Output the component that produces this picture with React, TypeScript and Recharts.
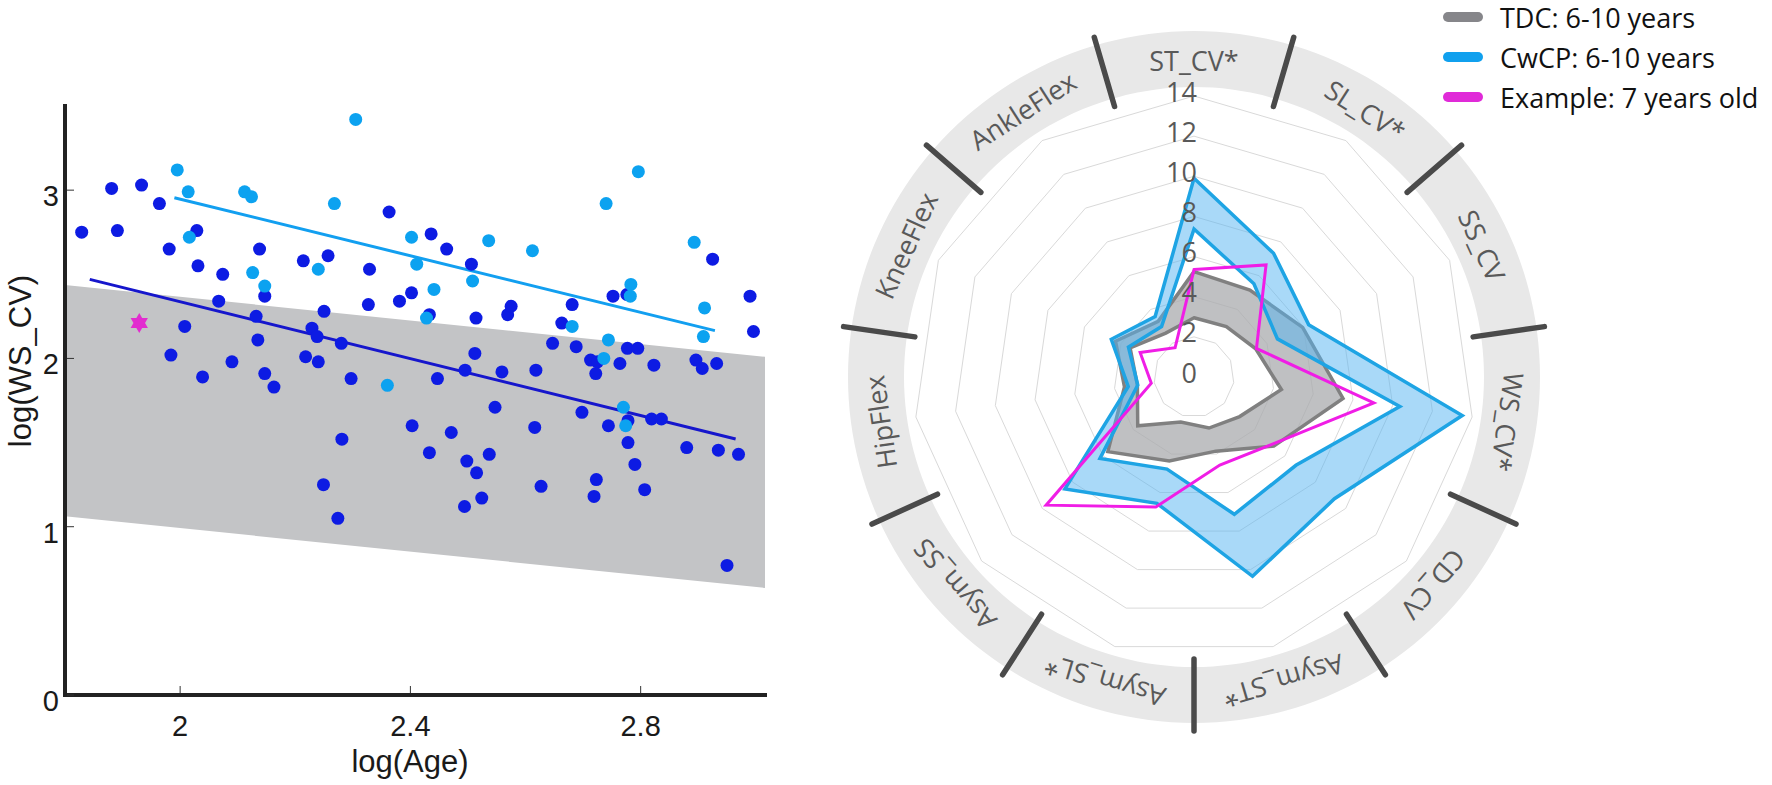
import React from 'react';
import {
  ComposedChart, Scatter, Line, Area, XAxis, YAxis,
  RadarChart, Radar, PolarGrid, PolarAngleAxis, PolarRadiusAxis, Legend,
  PieChart, Pie,
} from 'recharts';

// ---- left panel: log(WS_CV) against log(Age)
const darkAge = [
  1.829, 1.881, 1.891, 1.933, 1.964, 1.981, 2.029, 2.031, 2.074, 2.138, 2.147, 2.067, 2.132, 2.135, 2.008,
  1.984, 2.09, 2.039, 2.147, 2.163, 2.214, 2.257, 2.25, 2.229, 2.238, 2.28, 2.218, 2.24, 2.297, 2.329,
  2.327, 2.363, 2.381, 2.402, 2.436, 2.463, 2.433, 2.447, 2.506, 2.512, 2.514, 2.495, 2.559, 2.569, 2.575,
  2.547, 2.618, 2.647, 2.663, 2.681, 2.688, 2.698, 2.713, 2.725, 2.722, 2.744, 2.764, 2.752, 2.777, 2.795,
  2.778, 2.823, 2.819, 2.836, 2.403, 2.471, 2.616, 2.281, 2.433, 2.498, 2.515, 2.537, 2.627, 2.524, 2.494,
  2.249, 2.274, 2.778, 2.79, 2.723, 2.719, 2.807, 2.88, 2.925, 2.776, 2.896, 2.907, 2.932, 2.935, 2.99,
  2.996, 2.97, 2.95,
];
const darkWs = [
  2.75, 3.01, 2.76, 3.03, 2.92, 2.65, 2.76, 2.55, 2.5, 2.65, 2.37, 2.34, 2.25, 2.11, 2.19,
  2.02, 1.98, 1.89, 1.91, 1.83, 2.58, 2.61, 2.28, 2.18, 2.13, 2.09, 2.01, 1.98, 1.88, 2.53,
  2.32, 2.87, 2.34, 2.39, 2.74, 2.65, 2.26, 1.88, 2.56, 2.03, 2.24, 1.93, 1.92, 2.26, 2.31,
  1.71, 1.93, 2.09, 2.21, 2.32, 2.07, 1.68, 1.99, 1.98, 1.91, 1.6, 1.97, 2.37, 2.06, 2.06,
  1.63, 1.96, 1.64, 1.64, 1.6, 1.56, 1.59, 1.52, 1.44, 1.39, 1.32, 1.43, 1.24, 1.17, 1.12,
  1.25, 1.05, 1.5, 1.37, 1.28, 1.18, 1.22, 1.47, 2.59, 2.38, 1.99, 1.94, 1.97, 1.455, 2.37,
  2.16, 1.43, 0.77,
];
const lightAge = [
  1.995, 2.014, 2.016, 2.112, 2.124, 2.126, 2.147, 2.24, 2.268, 2.305, 2.402, 2.411, 2.441, 2.428, 2.36,
  2.508, 2.536, 2.612, 2.681, 2.74, 2.796, 2.783, 2.782, 2.744, 2.736, 2.77, 2.774, 2.893, 2.911, 2.909,
];
const lightWs = [
  3.12, 2.99, 2.72, 2.99, 2.96, 2.51, 2.43, 2.53, 2.92, 3.42, 2.72, 2.56, 2.41, 2.24, 1.84,
  2.46, 2.7, 2.64, 2.19, 2.92, 3.11, 2.44, 2.37, 2.11, 2.0, 1.71, 1.6, 2.69, 2.3, 2.13,
];
const exampleAge = [1.929];
const exampleWs = [2.21];

const darkFitAge = [1.843, 2.965];
const darkFitWs = [2.47, 1.521];
const lightFitAge = [1.99, 2.929];
const lightFitWs = [2.955, 2.165];

const bandAge = [1.8, 3.016];
const bandLow = [1.062, 0.636];
const bandHigh = [2.436, 2.01];

const ageTicks = [2, 2.4, 2.8];
const wsTicks = [0, 1, 2, 3];

const darkPts = darkAge.map((x, i) => ({ x, y: darkWs[i] }));
const lightPts = lightAge.map((x, i) => ({ x, y: lightWs[i] }));
const examplePts = exampleAge.map((x, i) => ({ x, y: exampleWs[i] }));
const darkFit = darkFitAge.map((x, i) => ({ x, y: darkFitWs[i] }));
const lightFit = lightFitAge.map((x, i) => ({ x, y: lightFitWs[i] }));
const bandRows = bandAge.map((x, i) => ({ x, band: [bandLow[i], bandHigh[i]] }));

// ---- right panel: radar of gait variables
const radarAxes = ['ST_CV*', 'SL_CV*', 'SS_CV', 'WS_CV*', 'CD_CV', 'Asym_ST*', 'Asym_SL*', 'Asym_SS', 'HipFlex', 'KneeFlex', 'AnkleFlex'];
const tdcLow = [2.95, 2.98, 3.38, 4.4, 3.01, 2.65, 2.34, 3.71, 2.85, 3.5, 2.6];
const tdcHigh = [5.25, 5.15, 5.95, 7.5, 5.26, 3.85, 4.36, 5.68, 3.5, 4.3, 3.3];
const cwcpLow = [7.37, 5.52, 4.57, 10.36, 6.72, 7.13, 4.78, 6.2, 2.83, 3.59, 2.99];
const cwcpHigh = [9.9, 7.33, 6.28, 13.5, 9.26, 10.35, 6.56, 8.51, 3.31, 4.53, 3.58];
const exampleVals = [5.35, 6.64, 3.42, 9.05, 5.13, 4.57, 6.75, 9.75, 2.15, 2.95, 1.74];
const radialTicks = [0, 2, 4, 6, 8, 10, 12, 14];
const legendNames = ['TDC: 6-10 years', 'CwCP: 6-10 years', 'Example: 7 years old'];
const legendColors = ['#86868a', '#10a0ee', '#e02ad8'];

const radarRows = radarAxes.map((axis, i) => ({
  axis,
  tdc: [tdcLow[i], tdcHigh[i]],
  cwcp: [cwcpLow[i], cwcpHigh[i]],
  example: exampleVals[i],
}));
const ringData = [{ name: 'ring', value: 1 }];

const SANS = '"Liberation Sans", Arial, sans-serif';
const OPEN = '"Open Sans", sans-serif';
const RCX = 414;
const RCY = 377;
const RAD = Math.PI / 180;

const dot = (color: string) => (p: any) => <circle cx={p.cx} cy={p.cy} r={6.5} fill={color} />;

const hexStar = (p: any) => {
  const r = 10;
  const tri = (off: number) =>
    [0, 1, 2]
      .map((k) => {
        const a = (off + k * 120 - 90) * RAD;
        return `${p.cx + r * Math.cos(a)},${p.cy + r * Math.sin(a)}`;
      })
      .join(' ');
  return (
    <g>
      <polygon points={tri(0)} fill="#e22ccf" />
      <polygon points={tri(60)} fill="#e22ccf" />
    </g>
  );
};

const XTick = (p: any) => (
  <g>
    <line x1={p.x} y1={p.y - 2} x2={p.x} y2={p.y - 9} stroke="#333" strokeWidth={1} />
    <text x={p.x} y={p.y + 41} textAnchor="middle" fontSize={29} fontFamily={SANS} fill="#1a1a1a">
      {p.payload.value}
    </text>
  </g>
);

const YTick = (p: any) => (
  <g>
    <line x1={p.x + 2} y1={p.y} x2={p.x + 9} y2={p.y} stroke="#333" strokeWidth={1} />
    <text x={p.x - 6} y={p.y + 16} textAnchor="end" fontSize={29} fontFamily={SANS} fill="#1a1a1a">
      {p.payload.value}
    </text>
  </g>
);

const XLabel = (p: any) => {
  const vb = p.viewBox;
  return (
    <text x={vb.x + vb.width / 2 - 5} y={vb.y + 77} textAnchor="middle" fontSize={31} fontFamily={SANS} fill="#1a1a1a">
      log(Age)
    </text>
  );
};

const YLabel = (p: any) => {
  const vb = p.viewBox;
  const x = vb.x + 31;
  const y = vb.y + 255;
  return (
    <text x={x} y={y} transform={`rotate(-90, ${x}, ${y})`} textAnchor="middle" fontSize={31} fontFamily={SANS} fill="#1a1a1a">
      log(WS_CV)
    </text>
  );
};

const polar = (r: number, deg: number) => [RCX + r * Math.cos(-deg * RAD), RCY + r * Math.sin(-deg * RAD)];

const AngleTick = (p: any) => {
  const a = p.payload.coordinate;
  const [lx, ly] = polar(317, a);
  const d = a - 180 / radarAxes.length;
  const [x1, y1] = polar(282, d);
  const [x2, y2] = polar(354, d);
  return (
    <g>
      <line x1={x1} y1={y1} x2={x2} y2={y2} stroke="#4a4a4a" strokeWidth={5.5} strokeLinecap="round" />
      <text
        x={lx}
        y={ly}
        transform={`rotate(${90 - a}, ${lx}, ${ly})`}
        textAnchor="middle"
        dominantBaseline="central"
        fontSize={27}
        fontFamily={OPEN}
        fill="#595959"
      >
        {p.payload.value}
      </text>
    </g>
  );
};

const RadiusTick = (p: any) => (
  <text x={p.x + 3} y={p.y + 5.5} textAnchor="end" fontSize={27} fontFamily={OPEN} fill="#595959">
    {p.payload.value}
  </text>
);

// legend payload comes back sorted by name, so put it back in series order
const LegendBox = (p: any) => {
  const items = [...(p.payload || [])].sort(
    (a: any, b: any) => legendNames.indexOf(a.value) - legendNames.indexOf(b.value),
  );
  return (
    <div>
      {items.map((e: any) => (
        <div key={e.value} style={{ display: 'flex', alignItems: 'center', height: 40 }}>
          <svg width={40} height={12}>
            <line x1={5} y1={6} x2={35} y2={6} stroke={legendColors[legendNames.indexOf(e.value)]} strokeWidth={10} strokeLinecap="round" />
          </svg>
          <span style={{ marginLeft: 17, fontSize: 27, fontFamily: OPEN, color: '#111', whiteSpace: 'nowrap' }}>{e.value}</span>
        </div>
      ))}
    </div>
  );
};

export default function App() {
  return (
    <div style={{ position: 'absolute', left: 0, top: 0, width: 1772, height: 785, background: '#fff' }}>
      <div style={{ position: 'absolute', left: 0, top: 0 }}>
        <ComposedChart width={780} height={785} data={bandRows} margin={{ top: 106, right: 15, bottom: 0, left: 0 }}>
          <XAxis
            dataKey="x"
            type="number"
            domain={[1.8, 3.016]}
            allowDataOverflow
            ticks={ageTicks}
            height={90}
            axisLine={{ stroke: '#222', strokeWidth: 4, strokeLinecap: 'square' }}
            tickLine={false}
            tickSize={0}
            tickMargin={0}
            tick={XTick}
            label={{ content: XLabel }}
          />
          <YAxis
            dataKey="y"
            type="number"
            domain={[0, 3.5]}
            allowDataOverflow
            ticks={wsTicks}
            width={65}
            axisLine={{ stroke: '#222', strokeWidth: 4, strokeLinecap: 'square' }}
            tickLine={false}
            tickSize={0}
            tickMargin={0}
            tick={YTick}
            label={{ content: YLabel }}
          />
          <Area dataKey="band" type="linear" stroke="none" fill="#c3c4c6" fillOpacity={1} isAnimationActive={false} />
          <Scatter data={darkPts} dataKey="y" shape={dot('#0d1be3')} isAnimationActive={false} />
          <Line data={darkFit} dataKey="y" type="linear" stroke="#1616cc" strokeWidth={3} dot={false} isAnimationActive={false} />
          <Scatter data={lightPts} dataKey="y" shape={dot('#0ca2f0')} isAnimationActive={false} />
          <Line data={lightFit} dataKey="y" type="linear" stroke="#129ff0" strokeWidth={3} dot={false} isAnimationActive={false} />
          <Scatter data={examplePts} dataKey="y" shape={hexStar} isAnimationActive={false} />
        </ComposedChart>
      </div>

      <div style={{ position: 'absolute', left: 780, top: 0 }}>
        <PieChart width={992} height={785} margin={{ top: 0, right: 0, bottom: 0, left: 0 }}>
          <Pie
            data={ringData}
            dataKey="value"
            cx={RCX}
            cy={RCY}
            innerRadius={290}
            outerRadius={346}
            startAngle={90}
            endAngle={-270}
            fill="#e8e8e8"
            stroke="none"
            isAnimationActive={false}
          />
        </PieChart>
      </div>

      <div style={{ position: 'absolute', left: 780, top: 0 }}>
        <RadarChart width={992} height={785} data={radarRows} cx={RCX} cy={RCY} outerRadius={281} margin={{ top: 0, right: 0, bottom: 0, left: 0 }}>
          <PolarGrid gridType="polygon" radialLines={false} stroke="#d9d9d9" strokeWidth={1} />
          <PolarAngleAxis dataKey="axis" tick={AngleTick} tickLine={false} axisLine={false} />
          <PolarRadiusAxis
            angle={90}
            type="number"
            domain={[0, 14]}
            ticks={radialTicks}
            tickCount={8}
            tick={RadiusTick}
            axisLine={false}
            tickLine={false}
          />
          <Radar name={legendNames[0]} dataKey="tdc" stroke="#808080" strokeWidth={3.5} fill="#a9abae" fillOpacity={0.75} dot={false} isAnimationActive={false} />
          <Radar name={legendNames[1]} dataKey="cwcp" stroke="#1ea4e4" strokeWidth={3.5} fill="#53b3f2" fillOpacity={0.5} dot={false} isAnimationActive={false} />
          <Radar name={legendNames[2]} dataKey="example" stroke="#f01de6" strokeWidth={3} fill="none" fillOpacity={0} dot={false} isAnimationActive={false} />
          <Legend layout="vertical" align="center" verticalAlign="middle" wrapperStyle={{ left: 663, top: -3, width: 330, height: 120 }} content={LegendBox} />
        </RadarChart>
      </div>
    </div>
  );
}
